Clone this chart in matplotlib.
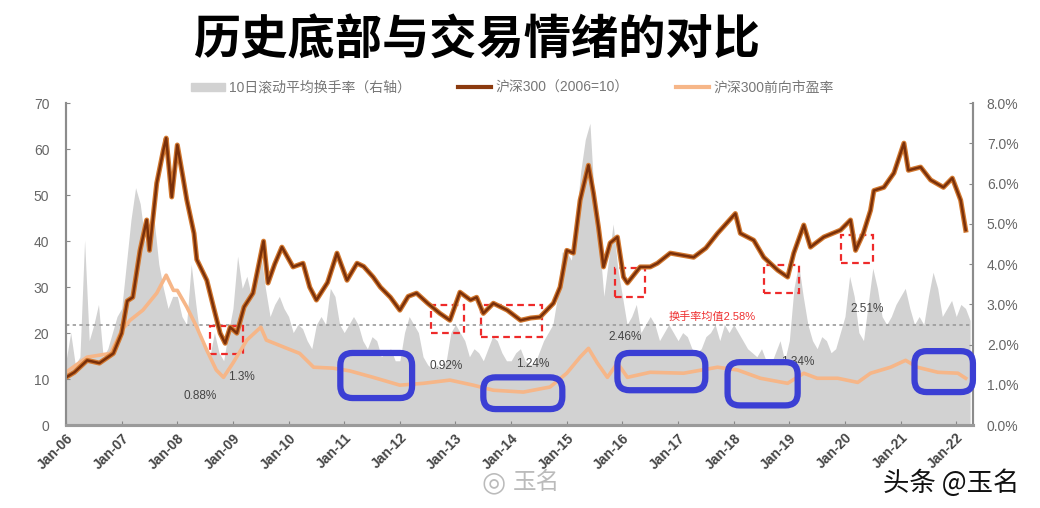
import matplotlib
matplotlib.use('Agg')
import matplotlib.pyplot as plt
from matplotlib.patches import Rectangle, FancyBboxPatch, Patch
from matplotlib.lines import Line2D
import numpy as np

plt.rcParams['font.family'] = ['Liberation Sans', 'Noto Sans CJK SC', 'DejaVu Sans']

# 沪深300 (2006=10), decimal years
csi_t = [2006.0, 2006.15, 2006.38, 2006.6, 2006.85, 2007.0, 2007.1, 2007.2, 2007.33, 2007.45,
         2007.5, 2007.63, 2007.75, 2007.8, 2007.9, 2008.0, 2008.1, 2008.17, 2008.3, 2008.35,
         2008.53, 2008.65, 2008.77, 2008.86, 2008.95, 2009.07, 2009.2, 2009.36, 2009.55, 2009.63,
         2009.75, 2009.88, 2010.08, 2010.26, 2010.38, 2010.5, 2010.7, 2010.87, 2011.05, 2011.23,
         2011.35, 2011.52, 2011.65, 2011.83, 2012.0, 2012.15, 2012.3, 2012.5, 2012.72, 2012.9,
         2013.08, 2013.27, 2013.38, 2013.5, 2013.68, 2013.93, 2014.17, 2014.35, 2014.52, 2014.76,
         2014.88, 2015.0, 2015.12, 2015.24, 2015.39, 2015.48, 2015.57, 2015.66, 2015.78, 2015.91,
         2016.02, 2016.09, 2016.32, 2016.5, 2016.63, 2016.86, 2017.28, 2017.5, 2017.71, 2018.03,
         2018.12, 2018.36, 2018.54, 2018.79, 2018.97, 2019.08, 2019.26, 2019.38, 2019.62, 2019.92,
         2020.1, 2020.19, 2020.33, 2020.46, 2020.52, 2020.7, 2020.88, 2021.06, 2021.14, 2021.36,
         2021.54, 2021.77, 2021.93, 2022.08, 2022.17]
csi_v = [10.4, 11.5, 14.1, 13.5, 15.6, 20.0, 27.0, 27.8, 38.0, 44.6,
         38.0, 52.6, 59.8, 62.4, 49.6, 60.9, 54.0, 49.0, 41.7, 36.0,
         31.5, 25.7, 20.0, 17.8, 21.3, 20.0, 25.7, 28.7, 40.0, 30.9,
         35.0, 38.7, 34.4, 35.2, 30.0, 27.2, 31.0, 37.4, 31.5, 35.2,
         34.5, 32.2, 30.0, 27.8, 25.0, 28.0, 28.7, 26.5, 24.3, 22.8,
         28.9, 27.2, 27.8, 24.3, 26.5, 25.0, 22.8, 23.3, 23.5, 26.5,
         30.0, 38.0, 37.4, 48.9, 56.5, 50.4, 43.0, 34.4, 39.6, 40.9,
         32.2, 30.9, 34.4, 34.4, 35.2, 37.4, 36.5, 38.5, 41.7, 46.0,
         41.7, 40.2, 36.5, 33.7, 32.2, 37.4, 43.5, 38.7, 40.9, 42.4,
         44.6, 38.0, 41.7, 46.7, 51.0, 51.7, 54.8, 61.3, 55.4, 56.1,
         53.3, 51.7, 53.7, 48.9, 42.4]

# 沪深300前向市盈率
pe_t = [2006.0, 2006.38, 2006.8, 2007.0, 2007.15, 2007.38, 2007.63, 2007.8, 2007.93, 2008.0,
        2008.17, 2008.35, 2008.53, 2008.7, 2008.83, 2009.0, 2009.25, 2009.5, 2009.6, 2009.97,
        2010.2, 2010.45, 2010.8, 2011.1, 2011.52, 2012.0, 2012.42, 2012.9, 2013.32, 2013.68,
        2014.22, 2014.7, 2015.0, 2015.24, 2015.39, 2015.55, 2015.73, 2015.91, 2016.09, 2016.5,
        2017.1, 2017.71, 2018.07, 2018.48, 2018.97, 2019.26, 2019.5, 2019.87, 2020.23, 2020.46,
        2020.82, 2021.09, 2021.3, 2021.67, 2022.03, 2022.17]
pe_v = [11.5, 14.8, 15.6, 20.6, 22.8, 25.0, 28.7, 32.6, 29.3, 29.3,
        25.7, 21.3, 16.3, 12.0, 10.4, 13.5, 18.5, 21.3, 18.5, 16.7,
        15.6, 12.6, 12.4, 11.8, 10.4, 8.7, 9.1, 9.8, 8.7, 7.6,
        7.2, 8.3, 11.3, 14.8, 16.7, 13.5, 10.4, 13.5, 10.4, 11.5,
        11.3, 12.6, 12.0, 10.2, 9.1, 11.3, 10.2, 10.2, 9.3, 11.3,
        12.6, 14.1, 12.6, 11.5, 11.3, 10.2]

# 10日滚动平均换手率 (%), monthly from Jan-06
turnover = [1.6, 2.3, 1.5, 1.7, 4.6, 2.1, 2.5, 3.0, 1.7, 1.9, 2.3, 2.7,
            2.9, 4.0, 5.1, 5.9, 5.5, 4.6, 4.3, 5.1, 4.0, 3.4, 2.9, 3.2,
            3.2, 2.7, 2.5, 4.0, 3.0, 2.1, 1.9, 1.7, 2.3, 1.8, 1.6, 2.3,
            2.9, 4.2, 3.4, 3.7, 3.2, 3.9, 4.3, 3.4, 2.7, 3.0, 3.2, 2.9,
            2.7, 2.3, 2.5, 2.4, 2.1, 1.9, 2.5, 2.7, 2.5, 3.4, 3.2, 2.5,
            2.3, 2.5, 2.7, 2.5, 2.1, 1.9, 2.2, 2.1, 1.7, 1.8, 1.9, 1.6,
            1.6, 2.3, 2.7, 2.5, 2.3, 1.7, 1.5, 1.4, 1.5, 1.4, 1.6, 2.3,
            2.5, 2.3, 2.1, 1.7, 1.9, 1.8, 1.6, 1.9, 2.2, 2.1, 1.8, 1.6,
            1.6, 1.8, 1.9, 1.6, 1.5, 1.5, 1.8, 2.1, 2.3, 2.5, 3.2, 4.3,
            4.3, 4.1, 5.1, 6.3, 7.1, 7.5, 5.5, 4.6, 3.2, 4.1, 5.0, 3.9,
            3.2, 2.5, 2.7, 3.0, 2.3, 2.5, 2.7, 2.5, 2.1, 2.3, 2.5, 2.3,
            2.1, 2.3, 2.2, 1.9, 1.8, 1.9, 2.2, 2.3, 2.5, 2.1, 2.5, 2.3,
            2.5, 2.3, 2.1, 1.9, 1.8, 1.7, 1.9, 1.6, 1.5, 1.8, 2.1, 1.6,
            2.1, 3.4, 4.0, 3.2, 2.5, 2.1, 1.9, 2.2, 2.1, 1.8, 1.9, 2.3,
            2.7, 3.7, 3.2, 2.3, 2.1, 3.0, 3.9, 3.4, 2.7, 2.5, 2.7, 3.0,
            3.2, 3.4, 2.9, 2.5, 2.7, 2.5, 3.2, 3.8, 3.4, 2.7, 2.9, 3.1,
            2.7, 3.0, 2.9, 2.6]
turnover_t = 2006 + np.arange(len(turnover)) / 12.0
turnover_mean = 2.48

year_ticks = list(range(2006, 2023))
year_labels = ['Jan-%02d' % (y % 100) for y in year_ticks]

# bottoms (red dashed): x0, x1, y0, y1 in left-axis units
red_boxes = [(2008.59, 2009.18, 15.4, 21.5), (2012.56, 2013.16, 20.0, 26.1),
             (2013.45, 2014.56, 19.1, 26.1), (2015.86, 2016.40, 27.8, 34.1),
             (2018.55, 2019.18, 28.7, 34.8), (2019.92, 2020.51, 35.2, 41.3)]
blue_boxes = [(2010.93, 2012.22, 5.9, 15.7), (2013.50, 2014.92, 3.5, 10.4),
              (2015.91, 2017.49, 7.6, 15.7), (2017.89, 2019.15, 4.3, 13.7),
              (2021.25, 2022.30, 7.2, 16.1)]
notes = [(2008.41, 6.3, '0.88%'), (2009.15, 10.4, '1.3%'), (2012.83, 12.8, '0.92%'),
         (2014.38, 13.3, '1.24%'), (2016.05, 19.1, '2.46%'), (2019.15, 13.7, '1.34%'),
         (2020.39, 25.2, '2.51%')]

fig = plt.figure(figsize=(10.4, 5.08), dpi=100)
ax = fig.add_axes([0.0635, 0.163, 0.872, 0.634])
ax2 = ax.twinx()
ax.set_zorder(ax2.get_zorder() + 1)
ax.patch.set_visible(False)

ax2.fill_between(turnover_t, 0, turnover, color='#d2d2d2', lw=0)
ax2.axhline(turnover_mean, color='#9a9a9a', lw=1.2, ls=(0, (2, 2)))
ax2.set_ylim(0, 8)
ax2.set_yticks(np.arange(0, 9, 1))
ax2.set_yticklabels(['%.1f%%' % v for v in range(9)])

ax.plot(pe_t, pe_v, color='#f6b688', lw=2.6, solid_joinstyle='round')
ax.plot(csi_t, csi_v, color='#d2782f', lw=3.6, solid_joinstyle='round')
ax.plot(csi_t, csi_v, color='#7a300a', lw=1.8, solid_joinstyle='round')

for x0, x1, y0, y1 in red_boxes:
    ax.add_patch(Rectangle((x0, y0), x1 - x0, y1 - y0, fill=False, ec='#ee2a2a',
                           lw=1.6, ls=(0, (3, 2))))
for x0, x1, y0, y1 in blue_boxes:
    ax.add_patch(FancyBboxPatch((x0, y0), x1 - x0, y1 - y0,
                                boxstyle='round,pad=0,rounding_size=0.22',
                                mutation_aspect=12.1, fill=False, ec='#3b3fd4', lw=4.5,
                                clip_on=False, zorder=5))
for x, y, s in notes:
    ax.text(x, y, s, fontsize=8.5, color='#444444', ha='center', va='center', zorder=4)
ax.text(2017.62, 23.5, '换手率均值2.58%', fontsize=8, color='#ee3030', ha='center',
        va='center')

ax.set_xlim(2006.0, 2022.3)
ax.set_ylim(0, 70)
ax.set_yticks(range(0, 71, 10))
ax.set_xticks(year_ticks)
ax.set_xticklabels(year_labels, rotation=45, ha='right', rotation_mode='anchor',
                   fontweight='bold', color='#444444', fontsize=10)

for a in (ax, ax2):
    a.tick_params(direction='in', length=3, color='#888888', labelcolor='#666666',
                  labelsize=10)
    a.spines['top'].set_visible(False)
    a.spines['left'].set_color('#8c8c8c')
    a.spines['right'].set_color('#8c8c8c')
    a.spines['bottom'].set_color('#9a9a9a')
    a.spines['left'].set_linewidth(1.5)
    a.spines['right'].set_linewidth(1.5)
    a.spines['bottom'].set_linewidth(2.2)
ax.tick_params(axis='x', pad=4, labelcolor='#444444', labelsize=10)
ax.tick_params(axis='y', pad=12)
ax2.tick_params(axis='y', pad=10)

handles = [Patch(color='#d2d2d2'),
           Line2D([], [], color='#8b3a0e', lw=3),
           Line2D([], [], color='#f6b688', lw=3)]
labels = ['10日滚动平均换手率（右轴）', '沪深300（2006=10）', '沪深300前向市盈率']
fig.legend(handles, labels, loc='center', bbox_to_anchor=(0.493, 0.827), ncol=3,
           frameon=False, fontsize=10, handlelength=2.4, handleheight=0.6,
           columnspacing=3.4, handletextpad=0.3, labelcolor='#777777')

fig.text(0.458, 0.921, '历史底部与交易情绪的对比', fontsize=34, fontweight='bold',
         family='Noto Sans CJK SC', ha='center', va='center', color='black')
fig.text(0.915, 0.049, '头条 @玉名', fontsize=19, family='Noto Sans CJK SC',
         ha='center', va='center', color='#111111')
fig.text(0.475, 0.05, '◎', fontsize=20, family='DejaVu Sans', ha='center',
         va='center', color='#bbbbbb')
fig.text(0.516, 0.05, '玉名', fontsize=17, family='Noto Sans CJK SC', ha='center',
         va='center', color='#bbbbbb')

fig.savefig('out.png', dpi=100)
